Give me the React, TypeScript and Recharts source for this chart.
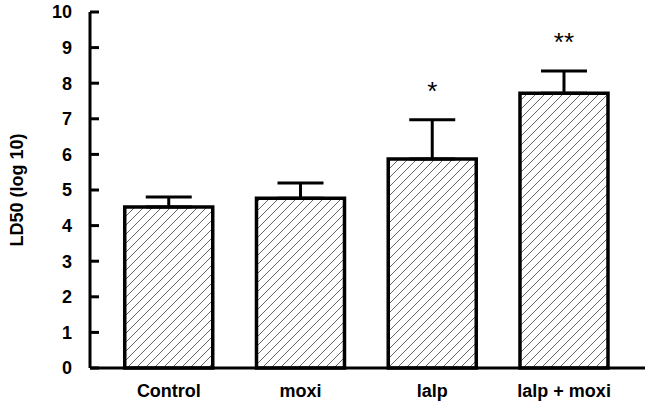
import { BarChart, Bar, XAxis, YAxis, ErrorBar, LabelList } from 'recharts'

const groups = ['Control', 'moxi', 'lalp', 'lalp + moxi']
const ld50 = [4.52, 4.77, 5.87, 7.72]
const sdUp = [0.28, 0.43, 1.1, 0.62]
const stars = ['', '', '*', '**']
const yTicks = [0, 1, 2, 3, 4, 5, 6, 7, 8, 9, 10]

const data = groups.map((g, i) => ({
  name: g,
  value: ld50[i],
  err: [0, sdUp[i]],
  star: stars[i],
}))

const FONT = 'Arial, "Liberation Sans", Helvetica, sans-serif'

function YTick(props: any) {
  const { x, y, payload } = props
  return (
    <g>
      <line x1={x} x2={x + 9} y1={y} y2={y} stroke="#000" strokeWidth={3} />
      <text x={x - 18} y={y} dy="0.36em" textAnchor="end" fontFamily={FONT} fontWeight="bold" fontSize={18} fill="#000">
        {payload.value}
      </text>
    </g>
  )
}

function StarLabel(props: any) {
  const { x, y, width, height, index } = props
  const s = stars[index]
  if (!s) return null
  // pixels per unit from the bar itself, so the star sits above the error cap
  const ppu = height / ld50[index]
  const capY = y - sdUp[index] * ppu
  return (
    <text x={x + width / 2} y={capY - 20} textAnchor="middle" fontFamily={FONT} fontSize={26} fill="#000">
      {s}
    </text>
  )
}

export default function App() {
  return (
    <div style={{ position: 'absolute', left: 0, top: 0, background: '#fff' }}>
      <svg width={0} height={0} style={{ position: 'absolute' }}>
        <defs>
          <pattern id="hatch" patternUnits="userSpaceOnUse" width={9} height={9}>
            <path d="M0,9 L9,0 M-2,2 L2,-2 M7,11 L11,7" stroke="#555" strokeWidth={0.9} />
          </pattern>
        </defs>
      </svg>
      <BarChart
        width={653}
        height={411}
        data={data}
        margin={{ top: 12, right: 8, left: 0, bottom: 0 }}
        barCategoryGap="16.5%"
      >
        <XAxis
          dataKey="name"
          axisLine={{ stroke: '#000', strokeWidth: 3 }}
          tickLine={false}
          tickSize={0}
          tickMargin={16}
          padding={{ left: 13, right: 15 }}
          height={43}
          tick={{ fill: '#000', fontFamily: FONT, fontWeight: 'bold', fontSize: 18 }}
          interval={0}
        />
        <YAxis
          domain={[0, 10]}
          ticks={yTicks}
          width={90}
          axisLine={{ stroke: '#000', strokeWidth: 3 }}
          tickLine={false}
          tickSize={0}
          tickMargin={0}
          tick={<YTick />}
          interval={0}
          label={{
            value: 'LD50 (log 10)',
            angle: -90,
            position: 'insideLeft',
            offset: 17,
            style: { fill: '#000', fontFamily: FONT, fontWeight: 'bold', fontSize: 18, textAnchor: 'middle' },
          }}
        />
        <Bar dataKey="value" fill="url(#hatch)" stroke="#000" strokeWidth={3.5} isAnimationActive={false}>
          <ErrorBar dataKey="err" width={23} stroke="#000" strokeWidth={3} direction="y" />
          <LabelList dataKey="star" content={<StarLabel />} />
        </Bar>
      </BarChart>
    </div>
  )
}
